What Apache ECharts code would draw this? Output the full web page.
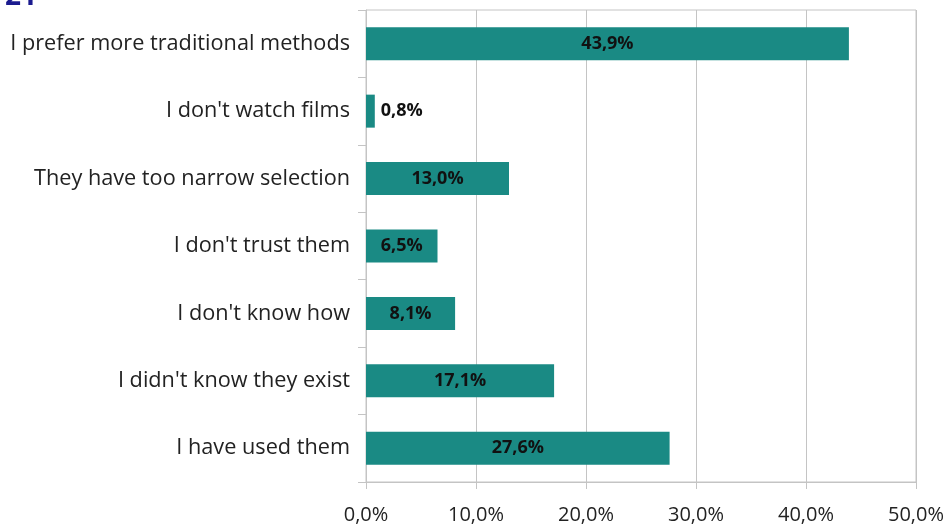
<!DOCTYPE html>
<html>
<head>
<meta charset="utf-8">
<script src="https://cdn.jsdelivr.net/npm/echarts@6/dist/echarts.min.js"></script>
<style>
  html, body { margin: 0; padding: 0; background: #fff; }
  #chart { width: 950px; height: 529px; }
</style>
</head>
<body>
<div id="chart"></div>
<script>
// Reasons given, listed top to bottom
var categories = [
  'I prefer more traditional methods',
  "I don't watch films",
  'They have too narrow selection',
  "I don't trust them",
  "I don't know how",
  "I didn't know they exist",
  'I have used them'
];
// Share of respondents, percent
var shares = [43.9, 0.8, 13.0, 6.5, 8.1, 17.1, 27.6];
// Axis range and tick step, percent
var axisMin = 0;
var axisMax = 50;
var axisStep = 10;

function pct(v) {
  return v.toFixed(1).replace('.', ',') + '%';
}

var FONT = 'Open Sans';
var chart = echarts.init(document.getElementById('chart'), null, { renderer: 'canvas' });

chart.setOption({
  animation: false,
  backgroundColor: '#ffffff',
  graphic: [{
    type: 'text',
    left: 5,
    top: -17,
    style: {
      text: '21',
      fontFamily: FONT,
      fontWeight: 'bold',
      fontSize: 28,
      fill: '#1b1b8f'
    }
  }],
  grid: {
    left: 366,
    right: 34,
    top: 10,
    bottom: 47,
    show: true,
    borderColor: '#c4c4c4',
    borderWidth: 1,
    containLabel: false
  },
  xAxis: {
    type: 'value',
    min: axisMin,
    max: axisMax,
    interval: axisStep,
    axisLine: { show: true, lineStyle: { color: '#c4c4c4', width: 1 } },
    axisTick: { show: true, length: 7, lineStyle: { color: '#c4c4c4' } },
    splitLine: { show: true, lineStyle: { color: '#c4c4c4', width: 1 } },
    axisLabel: {
      margin: 23,
      fontFamily: FONT,
      fontSize: 20,
      color: '#222',
      formatter: function (v) { return pct(v); }
    }
  },
  yAxis: {
    type: 'category',
    data: categories,
    inverse: true,
    axisLine: { show: true, lineStyle: { color: '#c4c4c4', width: 1 } },
    axisTick: { show: true, length: 8, alignWithLabel: false, lineStyle: { color: '#c4c4c4' } },
    axisLabel: {
      margin: 16,
      fontFamily: FONT,
      fontSize: 21.7,
      color: '#222'
    }
  },
  series: [{
    type: 'bar',
    data: shares.map(function (v) {
      return {
        value: v,
        label: { position: v < 3 ? 'right' : 'inside' }
      };
    }),
    barWidth: 33,
    itemStyle: { color: '#1a8a84' },
    label: {
      show: true,
      fontFamily: FONT,
      fontWeight: 'bold',
      fontSize: 18,
      color: '#111',
      distance: 6,
      formatter: function (p) { return pct(p.value); }
    }
  }]
});
</script>
</body>
</html>
